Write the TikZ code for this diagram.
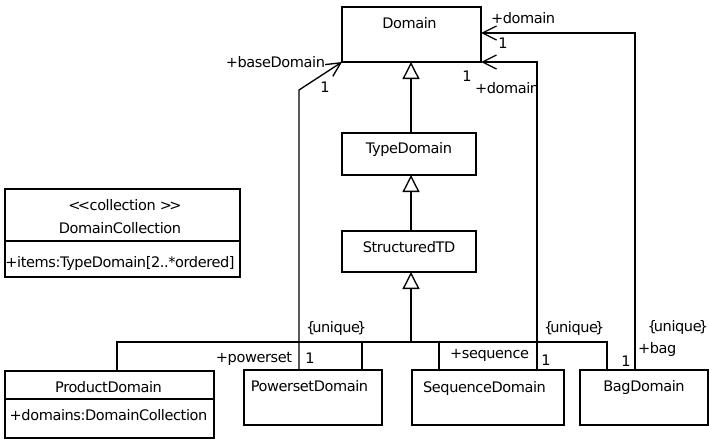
\documentclass[tikz,border=0pt]{standalone}
\usepackage{fontspec}
\newfontfamily\umlfont{DejaVu Sans}[LetterSpace=-2.8]
\usetikzlibrary{arrows.meta,calc}
\begin{document}
\begin{tikzpicture}[x=0.75pt,y=-0.75pt,
  every node/.style={inner sep=0pt, outer sep=0pt},
  lbl/.style={font=\umlfont\fontsize{10.9}{12}\selectfont, anchor=base},
  cls/.style 2 args={draw, line width=1pt, rectangle, anchor=north west,
    minimum width=#1*0.75pt, minimum height=#2*0.75pt},
  rel/.style={line width=1pt},
  gen/.style={rel, -{Triangle[open, fill=white, length=12.75pt, width=12.75pt]}},
  assoc/.style={rel, -{Straight Barb[length=10.5pt, width=10.5pt]}},
]
\useasboundingbox (0,0) rectangle (709,439);

% class boxes
\node[cls={139}{55}] (dom)  at (342,7)   {};
\node[cls={134}{42}] (typ)  at (342,133) {};
\node[cls={134}{41}] (str)  at (342,231) {};
\node[cls={235}{88}] (col)  at (5,189)   {};
\node[cls={209}{67}] (prod) at (5,371)   {};
\node[cls={138}{55}] (pow)  at (244,370) {};
\node[cls={152}{55}] (seq)  at (412,370) {};
\node[cls={128}{55}] (bag)  at (580,370) {};

% compartment dividers
\coordinate (colsep) at (0,241);
\coordinate (prodsep) at (0,399);
\draw[rel] (col.west |- colsep) -- (col.east |- colsep);
\draw[rel] (prod.west |- prodsep) -- (prod.east |- prodsep);

% class names and attributes
\node[lbl] (tdom)  at (409.5,28) {Domain};
\node[lbl] (ttyp)  at (409,153)  {TypeDomain};
\node[lbl] (tstr)  at (409,252)  {StructuredTD};
\node[lbl] (tster) at (125,210)  {<\kern-2pt<collection >\kern-2pt>};
\node[lbl] (tcol)  at (120,233)  {DomainCollection};
\node[lbl] (titem) at (120,267)  {+items:TypeDomain[2..*ordered]};
\node[lbl] (tprod) at (108.5,392) {ProductDomain};
\node[lbl] (tdoms) at (108.5,420)  {+domains:DomainCollection};
\node[lbl] (tpow)  at (309.5,391)  {PowersetDomain};
\node[lbl] (tseq)  at (484.5,392)  {SequenceDomain};
\node[lbl] (tbag)  at (644,391)  {BagDomain};

% routing coordinates
\coordinate (gx)    at (411,0);
\coordinate (busy)  at (0,342);
\coordinate (dprod) at (117,0);
\coordinate (dpow)  at (362,0);
\coordinate (dseq)  at (439,0);
\coordinate (dbag)  at (607,0);
\coordinate (apow)  at (299,0);
\coordinate (aseq)  at (537,0);
\coordinate (abag)  at (635,0);
\coordinate (bend)  at (299,90);
\coordinate (tbagy) at (0,33);

% generalizations
\draw[gen] (typ.north -| gx) -- (dom.south -| gx);
\draw[gen] (str.north -| gx) -- (typ.south -| gx);
\draw[gen] (gx |- busy) -- (str.south -| gx);
\draw[rel] (prod.north -| dprod) -- (dprod |- busy) -- (dbag |- busy) -- (bag.north -| dbag);
\draw[rel] (pow.north -| dpow) -- (dpow |- busy);
\draw[rel] (seq.north -| dseq) -- (dseq |- busy);

% associations
\draw[assoc] (pow.north -| apow) -- (bend) -- (dom.south west);
\draw[assoc] (seq.north -| aseq) |- (dom.south east);
\draw[assoc] (bag.north -| abag) |- (dom.east |- tbagy);

% association end labels
\node[lbl, anchor=base east] (lbase) at (325,67) {+baseDomain};
\node[lbl] (mbase) at (325,92) {1};
\node[lbl, anchor=base west] (ldom1) at (491,23) {+domain};
\node[lbl] (mdom1) at (503,48) {1};
\node[lbl] (mdom2) at (467,81) {1};
\node[lbl, anchor=base west] (ldom2) at (475,93) {+domain};

\node[lbl, anchor=base west] (upow) at (306,332) {\{\kern-2.2pt unique\kern-2.2pt\}};
\node[lbl, anchor=base east] (lpow) at (292,362) {+powerset};
\node[lbl] (mpow) at (310,363) {1};

\node[lbl, anchor=base west] (useq) at (544,332) {\{\kern-2.2pt unique\kern-2.2pt\}};
\node[lbl, anchor=base east] (lseq) at (529,358) {+sequence};
\node[lbl] (mseq) at (546,365) {1};

\node[lbl, anchor=base east] (ubag) at (708,331) {\{\kern-2.2pt unique\kern-2.2pt\}};
\node[lbl, anchor=base west] (lbag) at (638,353) {+bag};
\node[lbl] (mbag) at (626,366) {1};
\end{tikzpicture}
\end{document}
